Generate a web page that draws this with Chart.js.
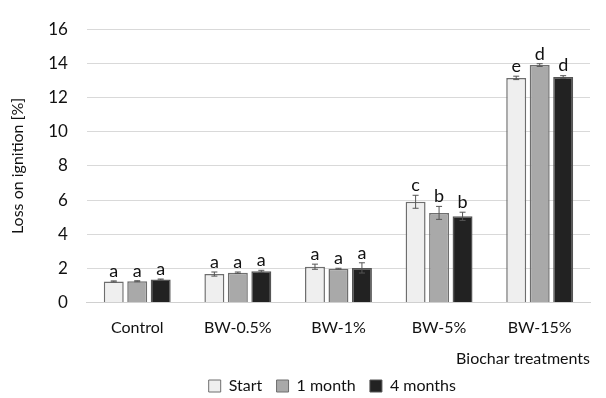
<!DOCTYPE html>
<html>
<head>
<meta charset="utf-8">
<script src="https://cdn.jsdelivr.net/npm/chart.js@4"></script>
<style>
  html, body { margin: 0; padding: 0; background: #fff; }
  #wrap { width: 606px; height: 398px; }
</style>
</head>
<body>
<div id="wrap"><canvas id="myChart" width="606" height="398"></canvas></div>
<script>
const labels = ["Control", "BW-0.5%", "BW-1%", "BW-5%", "BW-15%"];
const seriesNames = ["Start", "1 month", "4 months"];
const startVals = [1.24, 1.67, 2.1, 5.9, 13.15];
const oneMonthVals = [1.25, 1.75, 1.98, 5.25, 13.9];
const fourMonthVals = [1.35, 1.83, 2.03, 5.05, 13.2];
const startErr = [0.03, 0.12, 0.15, 0.38, 0.1];
const oneMonthErr = [0.03, 0.04, 0.03, 0.38, 0.08];
const fourMonthErr = [0.03, 0.06, 0.3, 0.24, 0.08];
const startLetters = ["a", "a", "a", "c", "e"];
const oneMonthLetters = ["a", "a", "a", "b", "d"];
const fourMonthLetters = ["a", "a", "a", "b", "d"];

const FONT = "Lato, 'Open Sans', sans-serif";

// error bars and significance letters
const extrasPlugin = {
  id: "extras",
  afterDatasetsDraw(chart) {
    const ctx = chart.ctx;
    const y = chart.scales.y;
    chart.data.datasets.forEach((ds, i) => {
      const meta = chart.getDatasetMeta(i);
      meta.data.forEach((bar, j) => {
        const v = ds.data[j];
        const e = ds.err[j];
        const yTop = y.getPixelForValue(v + e);
        const yBot = y.getPixelForValue(v - e);
        ctx.save();
        ctx.strokeStyle = "#555";
        ctx.lineWidth = 1;
        ctx.beginPath();
        ctx.moveTo(bar.x, yTop);
        ctx.lineTo(bar.x, yBot);
        ctx.moveTo(bar.x - 3, yTop);
        ctx.lineTo(bar.x + 3, yTop);
        ctx.moveTo(bar.x - 3, yBot);
        ctx.lineTo(bar.x + 3, yBot);
        ctx.stroke();
        ctx.fillStyle = "#111";
        ctx.font = "18px " + FONT;
        ctx.textAlign = "center";
        ctx.textBaseline = "bottom";
        ctx.fillText(ds.letters[j], bar.x, yTop - 1);
        ctx.restore();
      });
    });
  }
};

const ctx = document.getElementById("myChart").getContext("2d");
const data = {
  labels,
  datasets: [
    {
      label: seriesNames[0],
      data: startVals,
      err: startErr,
      letters: startLetters,
      backgroundColor: "#efefef",
      borderColor: "#6e6e6e",
    },
    {
      label: seriesNames[1],
      data: oneMonthVals,
      err: oneMonthErr,
      letters: oneMonthLetters,
      backgroundColor: "#a9a9a9",
      borderColor: "#6e6e6e",
    },
    {
      label: seriesNames[2],
      data: fourMonthVals,
      err: fourMonthErr,
      letters: fourMonthLetters,
      backgroundColor: "#222222",
      borderColor: "#555555",
    },
  ],
};

const config = {
  type: "bar",
  data: data,
  plugins: [extrasPlugin],
  options: {
    responsive: false,
    animation: false,
    borderWidth: 1.5,
    barPercentage: 0.85,
    categoryPercentage: 0.7,
    layout: { padding: { left: 4, right: 16, top: 12, bottom: -6 } },
    plugins: {
      tooltip: { enabled: false },
      legend: {
        position: "bottom",
        fullSize: false,
        labels: {
          font: { family: FONT, size: 16 },
          color: "#111",
          boxWidth: 12,
          boxHeight: 12,
          padding: 2,
          generateLabels(chart) {
            const items = Chart.defaults.plugins.legend.labels.generateLabels(chart);
            items.forEach((it) => { it.text = it.text + "   "; it.lineWidth = 1; });
            return items;
          },
        },
      },
    },
    scales: {
      x: {
        grid: { display: false },
        border: { color: "#d0d0d0" },
        ticks: { font: { family: FONT, size: 16 }, color: "#111", padding: 8 },
        title: {
          display: true,
          text: "Biochar treatments",
          align: "end",
          font: { family: FONT, size: 16 },
          color: "#111",
          padding: { top: 3, bottom: 8 },
        },
      },
      y: {
        min: 0,
        max: 16,
        ticks: { stepSize: 2, font: { family: FONT, size: 17 }, color: "#111", padding: 19 },
        grid: { color: "#d9d9d9", drawTicks: false },
        border: { display: false },
        title: {
          display: true,
          text: "Loss on ignition [%]",
          font: { family: FONT, size: 16 },
          color: "#111",
          padding: { bottom: 2 },
        },
      },
    },
  },
};

const myChart = new Chart(ctx, config);
</script>
</body>
</html>
